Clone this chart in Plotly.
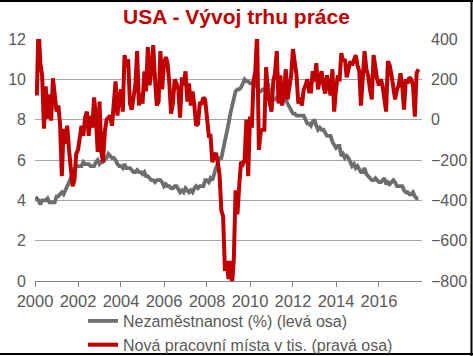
import pandas as pd
import plotly.graph_objects as go

start_month = "2000-01-01"

# Unemployment rate (%), monthly, Jan 2000 - Nov 2017 (left axis)
unemployment = [
    4.0, 4.1, 4.0, 3.8, 4.0, 4.0, 4.0, 4.1, 3.9, 3.9, 3.9, 3.9,
    4.2, 4.2, 4.3, 4.4, 4.3, 4.5, 4.6, 4.9, 5.0, 5.3, 5.5, 5.7,
    5.7, 5.7, 5.7, 5.9, 5.8, 5.8, 5.8, 5.7, 5.7, 5.7, 5.9, 6.0,
    5.8, 5.9, 5.9, 6.0, 6.1, 6.3, 6.2, 6.1, 6.1, 6.0, 5.8, 5.7,
    5.7, 5.6, 5.8, 5.6, 5.6, 5.6, 5.5, 5.4, 5.4, 5.5, 5.4, 5.4,
    5.3, 5.4, 5.2, 5.2, 5.1, 5.0, 5.0, 4.9, 5.0, 5.0, 5.0, 4.9,
    4.7, 4.8, 4.7, 4.7, 4.6, 4.6, 4.7, 4.7, 4.5, 4.4, 4.5, 4.4,
    4.6, 4.5, 4.4, 4.5, 4.4, 4.6, 4.7, 4.6, 4.7, 4.7, 4.7, 5.0,
    5.0, 4.9, 5.1, 5.0, 5.4, 5.6, 5.8, 6.1, 6.1, 6.5, 6.8, 7.3,
    7.8, 8.3, 8.7, 9.0, 9.4, 9.5, 9.5, 9.6, 9.8, 10.0, 9.9, 9.9,
    9.8, 9.8, 9.9, 9.9, 9.6, 9.4, 9.4, 9.5, 9.5, 9.4, 9.8, 9.3,
    9.1, 9.0, 9.0, 9.1, 9.0, 9.1, 9.0, 9.0, 9.0, 8.8, 8.6, 8.5,
    8.3, 8.3, 8.2, 8.2, 8.2, 8.2, 8.2, 8.0, 7.8, 7.8, 7.7, 7.9,
    8.0, 7.7, 7.5, 7.6, 7.5, 7.5, 7.3, 7.2, 7.2, 7.2, 6.9, 6.7,
    6.6, 6.7, 6.7, 6.2, 6.3, 6.1, 6.2, 6.1, 5.9, 5.7, 5.8, 5.6,
    5.7, 5.5, 5.4, 5.4, 5.6, 5.3, 5.2, 5.1, 5.0, 5.0, 5.1, 5.0,
    4.9, 4.9, 5.0, 5.1, 4.8, 4.9, 4.8, 4.9, 5.0, 4.9, 4.7, 4.7,
    4.7, 4.7, 4.5, 4.4, 4.4, 4.3, 4.3, 4.4, 4.2, 4.1, 4.1,
]

# New jobs in thousands, monthly (right axis)
new_jobs = [
    None, 120, 470, 280, 220, -45, 165, 5, 125, -5, 205, 125,
    40, 70, -20, -280, -45, -120, -30, -150, -250, -330, -300, -170,
    -150, -90, -30, -80, 10, 40, -80, 20, -40, 110, 10, -160,
    90, -160, -210, -60, 0, 10, 20, -30, 110, 190, 20, 110,
    150, 40, 320, 260, 300, 80, 50, 120, 170, 340, 70, 130,
    80, 240, 140, 360, 170, 250, 370, 200, 70, 90, 340, 150,
    280, 310, 280, 180, 30, 80, 200, 180, 150, 10, 210, 170,
    240, 90, 180, 70, 140, 70, -30, -20, 80, 80, 110, 100,
    20, -80, -80, -210, -185, -165, -210, -270, -450, -480, -750, -700,
    -790, -700, -820, -690, -350, -470, -330, -210, -220, -200, 0, -280,
    15, -40, 190, 240, 430, -150, -60, -50, -50, 260, 130, 90,
    40, 190, 230, 340, 80, 220, 70, 130, 250, 100, 150, 220,
    350, 260, 220, 80, 110, 70, 150, 170, 200, 140, 140, 240,
    190, 280, 150, 200, 240, 170, 130, 220, 170, 120, 250, 40,
    150, 220, 190, 330, 290, 300, 210, 250, 290, 270, 300, 320,
    270, 240, 70, 240, 340, 250, 220, 150, 100, 320, 250, 200,
    170, 200, 170, 90, 40, 290, 270, 220, 170, 100, 150, 170,
    230, 160, 50, 200, 180, 210, 200, 170, 15, 230, 250,
]

x_ticks = ["2000", "2002", "2004", "2006", "2008", "2010", "2012", "2014", "2016"]
left_ticks = [0, 2, 4, 6, 8, 10, 12]
right_ticks = [-800, -600, -400, -200, 0, 200, 400]

title_text = "USA - Vývoj trhu práce"
name_unemp = "Nezaměstnanost (%) (levá osa)"
name_jobs = "Nová pracovní místa v tis. (pravá osa)"

dates = pd.date_range(start_month, periods=len(unemployment), freq="MS")

FONT = "Liberation Sans, Arial, sans-serif"
GRAY_TXT = "#595959"
RED = "#C00000"
GRAY_LINE = "#6E6E6E"

fig = go.Figure()
fig.add_trace(go.Scatter(x=dates, y=unemployment, name=name_unemp, mode="lines",
                         line=dict(color=GRAY_LINE, width=3.8), yaxis="y"))
fig.add_trace(go.Scatter(x=dates, y=new_jobs, name=name_jobs, mode="lines",
                         line=dict(color=RED, width=4), yaxis="y2"))

W, H = 473, 356
L, R, T, B = 35, 51, 39, 75
pw, ph = W - L - R, H - T - B

def px2paper_x(px):
    return (px - L) / pw

def px2paper_y(py):
    return 1 - (py - T) / ph

fig.update_layout(
    width=W, height=H,
    margin=dict(l=L, r=R, t=T, b=B, autoexpand=False),
    paper_bgcolor="white", plot_bgcolor="white",
    font=dict(family=FONT, size=16, color=GRAY_TXT),
    title=dict(text="<b>" + title_text + "</b>", x=0.5, xanchor="center",
               xref="container", yref="container",
               y=1 - 17 / H, yanchor="middle",
               font=dict(family=FONT, size=21, color=RED)),
    xaxis=dict(type="date", range=["2000-01-01", "2018-01-01"],
               tickvals=[pd.Timestamp(t + "-01-01") for t in x_ticks],
               ticktext=x_ticks, showgrid=False, automargin=False,
               showline=True, linecolor="#868686", linewidth=1,
               ticks="outside", ticklen=5, tickcolor="#868686",
               tickfont=dict(size=16.5, color=GRAY_TXT), zeroline=False),
    yaxis=dict(range=[0, 12], tickvals=left_ticks, showgrid=True,
               gridcolor="#A6A6A6", gridwidth=1, zeroline=False, automargin=False,
               showline=False, ticks="", ticklabelstandoff=8,
               tickfont=dict(size=16, color=GRAY_TXT)),
    yaxis2=dict(range=[-800, 400], tickvals=right_ticks, overlaying="y",
                side="right", showgrid=False, zeroline=False, showline=False,
                ticks="", ticklabelstandoff=8, automargin=False,
                tickfont=dict(size=16, color=GRAY_TXT)),
    showlegend=True,
    legend=dict(orientation="v", xref="container", yref="container",
                x=83 / W, xanchor="left",
                y=1 - 304 / H, yanchor="top",
                font=dict(size=16, color=GRAY_TXT),
                bgcolor="rgba(0,0,0,0)", tracegroupgap=0),
)

# black border (top, right, bottom) of the chart frame
border = dict(color="black", width=2)
fig.add_shape(type="line", xref="paper", yref="paper",
              x0=px2paper_x(0), x1=px2paper_x(W), y0=px2paper_y(1), y1=px2paper_y(1), line=border)
fig.add_shape(type="line", xref="paper", yref="paper",
              x0=px2paper_x(471.5), x1=px2paper_x(471.5), y0=px2paper_y(0), y1=px2paper_y(H), line=border)
fig.add_shape(type="line", xref="paper", yref="paper",
              x0=px2paper_x(0), x1=px2paper_x(W), y0=px2paper_y(354), y1=px2paper_y(354), line=border)

fig.write_html("out.html", config={"displayModeBar": False},
               post_script="document.body.style.margin='0';")
